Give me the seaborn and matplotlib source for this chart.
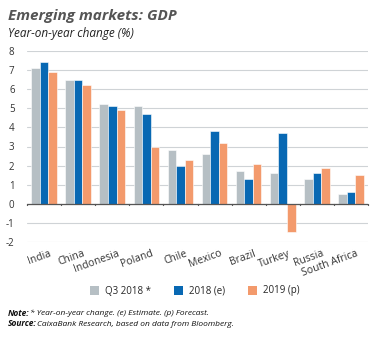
import matplotlib
matplotlib.use("Agg")
import matplotlib.pyplot as plt
import matplotlib.transforms as mtransforms
from matplotlib.patches import Patch
import seaborn as sns
import pandas as pd

countries = ["India", "China", "Indonesia", "Poland", "Chile", "Mexico",
             "Brazil", "Turkey", "Russia", "South Africa"]
q3_2018 = [7.1, 6.5, 5.2, 5.1, 2.8, 2.6, 1.7, 1.6, 1.3, 0.5]
y2018 = [7.4, 6.5, 5.1, 4.7, 2.0, 3.8, 1.3, 3.7, 1.6, 0.6]
y2019 = [6.9, 6.2, 4.9, 3.0, 2.3, 3.2, 2.1, -1.5, 1.9, 1.5]
series_names = ["Q3 2018 *", "2018 (e)", "2019 (p)"]
colors = ["#b6bfc4", "#0868b3", "#f39a6c"]
yticks = [-2, -1, 0, 1, 2, 3, 4, 5, 6, 7, 8]

rows = []
for name, vals in zip(series_names, [q3_2018, y2018, y2019]):
    for c, v in zip(countries, vals):
        rows.append({"country": c, "series": name, "value": v})
df = pd.DataFrame(rows)

sns.set_style("white")
plt.rcParams["font.family"] = ["Open Sans", "DejaVu Sans"]

fig = plt.figure(figsize=(3.82, 3.38), dpi=100)
ax = fig.add_axes([27 / 382, 1 - 242 / 338, (368 - 27) / 382, (242 - 51) / 338])

sns.barplot(data=df, x="country", y="value", hue="series", palette=colors,
            width=0.75, ax=ax, legend=False, edgecolor="white", linewidth=0.4,
            saturation=1)

ax.set_ylim(-2, 8)
ax.set_xlim(-0.5, len(countries) - 0.5)
ax.set_yticks(yticks)
ax.set_yticklabels([str(t) for t in yticks], fontsize=7, color="#333333")
ax.tick_params(axis="y", length=0, pad=9)
ax.yaxis.grid(True, color="#cfd3d6", linewidth=0.8)
ax.set_axisbelow(True)
for s in ax.spines.values():
    s.set_visible(False)
ax.set_xlabel("")
ax.set_ylabel("")
ax.set_xticks([])

# baseline and boundary ticks at 0
ax.axhline(0, color="#555555", linewidth=0.9, zorder=5)
trans = ax.get_xaxis_transform()
for b in range(len(countries) + 1):
    ax.plot([b - 0.5, b - 0.5], [0, -0.08], color="#555555", linewidth=0.9,
            zorder=5, clip_on=False)

# category labels below the plot
offset = mtransforms.ScaledTranslation(5 / 100, -6 / 100, fig.dpi_scale_trans)
for i, c in enumerate(countries):
    ax.text(i, 0, c, transform=trans + offset, rotation=20, ha="right", va="top",
            rotation_mode="anchor", fontsize=7.5, color="#333333")

# title and subtitle
fig.text(8 / 382, 1 - 16 / 338, "Emerging markets: GDP", fontsize=11,
         fontweight="bold", fontstyle="italic", color="#555555", va="center")
fig.text(8 / 382, 1 - 33 / 338, "Year-on-year change (%)", fontsize=8.5,
         fontstyle="italic", color="#222222", va="center")

# legend
handles = [Patch(facecolor=col, edgecolor="none") for col in colors]
fig.legend(handles, series_names, loc="center", bbox_to_anchor=(0.51, 1 - 291 / 338),
           ncol=3, frameon=False, fontsize=7, handlelength=1.0, handleheight=1.0,
           columnspacing=2.3, handletextpad=0.6)

# notes
fig.text(8 / 382, 1 - 313 / 338, "Note:", fontsize=6.0, fontweight="bold",
         fontstyle="italic", color="#111111", va="center")
fig.text(30 / 382, 1 - 313 / 338, "* Year-on-year change. (e) Estimate. (p) Forecast.",
         fontsize=6.0, fontstyle="italic", color="#111111", va="center")
fig.text(8 / 382, 1 - 324 / 338, "Source:", fontsize=6.0, fontweight="bold",
         fontstyle="italic", color="#111111", va="center")
fig.text(37 / 382, 1 - 324 / 338, "CaixaBank Research, based on data from Bloomberg.",
         fontsize=6.0, fontstyle="italic", color="#111111", va="center")

fig.savefig("out.png", dpi=100)
